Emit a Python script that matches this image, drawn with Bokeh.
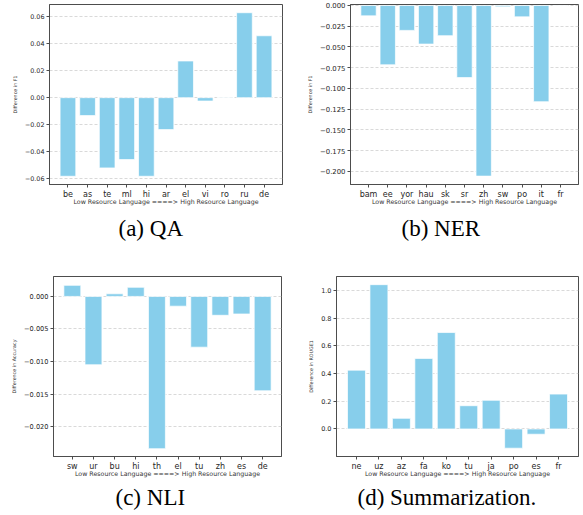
from bokeh.plotting import figure
from bokeh.models import Range1d, FixedTicker, CustomJSTickFormatter, Title
from bokeh.layouts import column, row
from bokeh.embed import file_html
from bokeh.resources import INLINE

# ---------------- data ----------------
qa_langs = ["be", "as", "te", "ml", "hi", "ar", "el", "vi", "ro", "ru", "de"]
qa_diff = [-0.0583, -0.0133, -0.0521, -0.0459, -0.0583, -0.0237, 0.0272, -0.0025, -0.0003, 0.0630, 0.0459]
qa_yticks = [-0.06, -0.04, -0.02, 0.0, 0.02, 0.04, 0.06]
qa_ylabels = ["\u22120.06", "\u22120.04", "\u22120.02", "0.00", "0.02", "0.04", "0.06"]

ner_langs = ["bam", "ee", "yor", "hau", "sk", "sr", "zh", "sw", "po", "it", "fr"]
ner_diff = [-0.0125, -0.0715, -0.0300, -0.0465, -0.0364, -0.0869, -0.2057, -0.0016, -0.0137, -0.1160, -0.0004]
ner_yticks = [0.0, -0.025, -0.05, -0.075, -0.1, -0.125, -0.15, -0.175, -0.2]
ner_ylabels = ["0.000", "\u22120.025", "\u22120.050", "\u22120.075", "\u22120.100",
               "\u22120.125", "\u22120.150", "\u22120.175", "\u22120.200"]

nli_langs = ["sw", "ur", "bu", "hi", "th", "el", "tu", "zh", "es", "de"]
nli_diff = [0.0017, -0.0105, 0.0004, 0.0014, -0.0234, -0.0015, -0.0078, -0.0029, -0.0027, -0.0145]
nli_yticks = [0.0, -0.005, -0.01, -0.015, -0.02]
nli_ylabels = ["0.000", "\u22120.005", "\u22120.010", "\u22120.015", "\u22120.020"]

sum_langs = ["ne", "uz", "az", "fa", "ko", "tu", "ja", "po", "es", "fr"]
sum_diff = [0.425, 1.043, 0.077, 0.510, 0.697, 0.168, 0.207, -0.139, -0.038, 0.252]
sum_yticks = [0.0, 0.2, 0.4, 0.6, 0.8, 1.0]
sum_ylabels = ["0.0", "0.2", "0.4", "0.6", "0.8", "1.0"]

x_title = "Low Resource Language ====> High Resource Language"

# ---------------- styling ----------------
FONT = "DejaVu Sans"
SERIF = "Liberation Serif"
EDGE = "#4d4d4d"
BAR = "#87CEEB"

tick_code = """
let best = 0;
for (let i = 0; i < tvals.length; i++) {
  if (Math.abs(tvals[i] - tick) < Math.abs(tvals[best] - tick)) best = i;
}
return tlabels[best];
"""


def panel(langs, diffs, yticks, ylabels, ylim, ylabel, caption, caption_offset, gap,
          width, height, mb_left, mb_right, mb_top, mb_bottom, ytick_size):
    n = len(langs)
    xs = list(range(n))
    pad = 0.4 + 0.05 * (n - 0.2)
    p = figure(width=width, height=height, output_backend="svg", toolbar_location=None,
               x_range=Range1d(-pad, n - 1 + pad), y_range=Range1d(*ylim),
               min_border_left=mb_left, min_border_right=mb_right,
               min_border_top=mb_top, min_border_bottom=mb_bottom,
               background_fill_color="white", border_fill_color="white")
    p.title.visible = False
    p.outline_line_color = EDGE
    p.outline_line_width = 1
    p.vbar(x=xs, top=diffs, bottom=0, width=0.8, fill_color=BAR,
           line_color="white", line_alpha=0.7, line_width=1)

    # x axis
    xa = p.xaxis[0]
    xa.ticker = FixedTicker(ticks=xs)
    xa.formatter = CustomJSTickFormatter(args=dict(tvals=xs, tlabels=langs), code=tick_code)
    xa.axis_label = x_title
    xa.axis_label_text_font = FONT
    xa.axis_label_text_font_size = "6.3px"
    xa.axis_label_text_font_style = "normal"
    xa.axis_label_text_color = "#333333"
    xa.axis_label_standoff = -4
    xa.major_label_text_font = FONT
    xa.major_label_text_font_size = "8px"
    xa.major_label_text_color = "#262626"
    xa.major_label_standoff = 2
    xa.major_tick_out = 3
    xa.major_tick_in = 0
    xa.minor_tick_out = 0
    xa.minor_tick_in = 0
    xa.axis_line_color = EDGE
    xa.major_tick_line_color = EDGE

    # y axis
    ya = p.yaxis[0]
    ya.ticker = FixedTicker(ticks=yticks)
    ya.formatter = CustomJSTickFormatter(args=dict(tvals=yticks, tlabels=ylabels), code=tick_code)
    ya.axis_label = ylabel
    ya.axis_label_text_font = FONT
    ya.axis_label_text_font_size = "4.8px"
    ya.axis_label_text_font_style = "normal"
    ya.axis_label_text_color = "#333333"
    ya.axis_label_standoff = 4
    ya.major_label_text_font = FONT
    ya.major_label_text_font_size = ytick_size
    ya.major_label_text_color = "#262626"
    ya.major_label_standoff = 2
    ya.major_tick_out = 3
    ya.major_tick_in = 0
    ya.minor_tick_out = 0
    ya.minor_tick_in = 0
    ya.axis_line_color = EDGE
    ya.major_tick_line_color = EDGE

    # grid
    p.xgrid.visible = False
    p.ygrid.ticker = FixedTicker(ticks=yticks)
    p.ygrid.grid_line_color = "#cfcfcf"
    p.ygrid.grid_line_dash = "3 2"
    p.ygrid.grid_line_width = 0.8

    # spacing panel, then the caption under the panel
    p.add_layout(Title(text=" ", text_font_size="1px", standoff=gap), "below")
    p.add_layout(Title(text=caption, text_font=SERIF, text_font_size="23px",
                       text_font_style="normal", text_color="black",
                       align="left", offset=caption_offset,
                       vertical_align="middle", standoff=0), "below")
    return p


pa = panel(qa_langs, qa_diff, qa_yticks, qa_ylabels, (-0.0644, 0.0691), "Difference in F1",
           "(a) QA", 69, 4, 290, 244, 49, 8, 4, 60, "6.4px")
pb = panel(ner_langs, ner_diff, ner_yticks, ner_ylabels, (-0.2158, 0.0012), "Difference in F1",
           "(b) NER", 51, 4, 293, 244, 60, 5, 4, 60, "6.9px")
pc = panel(nli_langs, nli_diff, nli_yticks, nli_ylabels, (-0.0246, 0.00306), "Difference in Accuracy",
           "(c) NLI", 62, 1, 290, 271, 53, 9, 32, 59, "6.6px")
pd = panel(sum_langs, sum_diff, sum_yticks, sum_ylabels, (-0.199, 1.102), "Difference in ROUGE1",
           "(d) Summarization.", 21, 1, 293, 271, 46, 5, 32, 59, "6.5px")

layout = column(row(pa, pb, spacing=0), row(pc, pd, spacing=0), spacing=0)

open("out.html", "w").write(file_html(layout, INLINE))
